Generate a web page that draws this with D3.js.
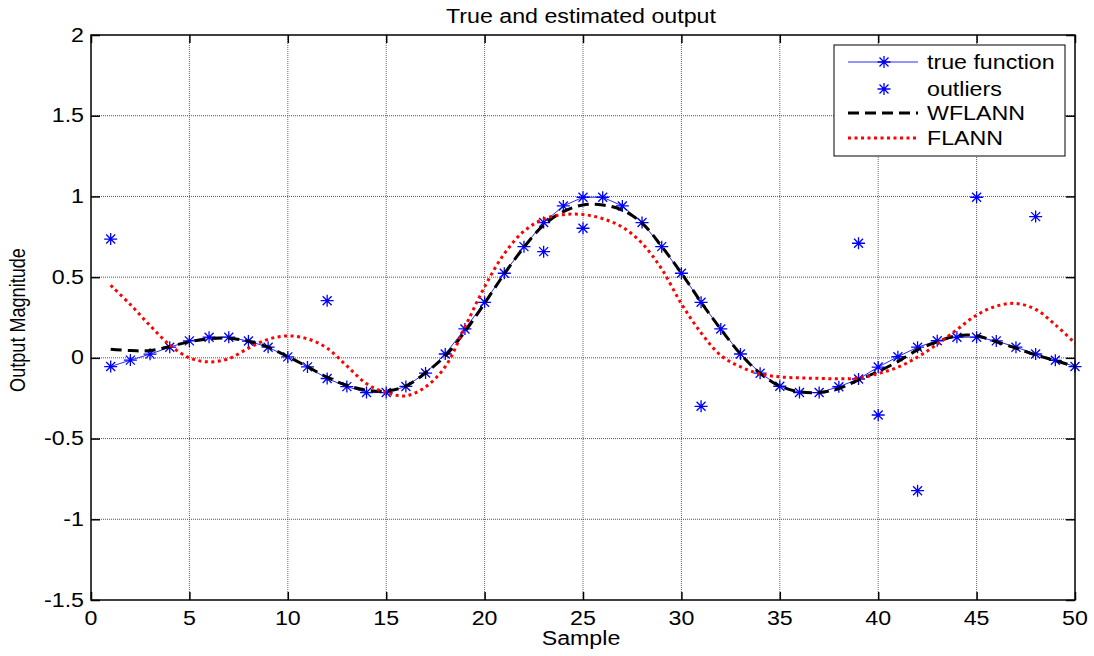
<!DOCTYPE html>
<html lang="en">
<head>
<meta charset="utf-8">
<title>True and estimated output</title>
<script src="https://d3js.org/d3.v7.min.js"></script>
<style>
  body { margin: 0; background: #fff; }
  text { font-family: "Liberation Sans", Arial, sans-serif; fill: #000; }
</style>
</head>
<body>
<div id="chart"></div>
<script>

// sample index 1..50
var samples = d3.range(1, 51);

// true function (blue line with * markers)
var trueFunction = [-0.054, -0.014, 0.023, 0.066, 0.105, 0.128, 0.128, 0.104, 0.066, 0.006,
                    -0.056, -0.128, -0.178, -0.215, -0.215, -0.177, -0.094, 0.024, 0.179, 0.344,
                    0.524, 0.689, 0.838, 0.941, 0.995, 0.995, 0.941, 0.838, 0.689, 0.524,
                    0.344, 0.179, 0.024, -0.095, -0.176, -0.215, -0.215, -0.179, -0.131, -0.057,
                    0.007, 0.066, 0.106, 0.128, 0.128, 0.105, 0.066, 0.024, -0.015, -0.054];

// outliers
var outlierX = [1, 12, 23, 25, 31, 39, 40, 42, 45, 48];
var outlierY = [0.736, 0.354, 0.658, 0.803, -0.30, 0.71, -0.354, -0.823, 0.995, 0.875];

// WFLANN estimate
var wflann = [0.053, 0.045, 0.045, 0.07, 0.10, 0.118, 0.122, 0.103, 0.066, 0.008,
              -0.055, -0.12, -0.17, -0.20, -0.205, -0.175, -0.092, 0.012, 0.162, 0.338,
              0.52, 0.685, 0.823, 0.906, 0.947, 0.947, 0.915, 0.835, 0.69, 0.525,
              0.345, 0.178, 0.024, -0.096, -0.174, -0.21, -0.215, -0.19, -0.137, -0.085,
              -0.023, 0.049, 0.10, 0.137, 0.137, 0.10, 0.06, 0.018, -0.017, -0.054];

// FLANN estimate
var flann = [0.45, 0.33, 0.20, 0.08, 0.00, -0.025, -0.005, 0.06, 0.115, 0.136,
             0.118, 0.06, -0.05, -0.16, -0.215, -0.235, -0.18, -0.055, 0.19, 0.44,
             0.645, 0.785, 0.86, 0.887, 0.888, 0.862, 0.81, 0.71, 0.55, 0.335,
             0.155, 0.015, -0.055, -0.10, -0.118, -0.124, -0.127, -0.13, -0.125, -0.097,
             -0.058, 0.005, 0.085, 0.175, 0.265, 0.32, 0.337, 0.30, 0.205, 0.09];

var xTicks = [0, 5, 10, 15, 20, 25, 30, 35, 40, 45, 50];
var yTicks = [-1.5, -1, -0.5, 0, 0.5, 1, 1.5, 2];
var legendLabels = ["true function", "outliers", "WFLANN", "FLANN"];

var w = 1094, h = 656;
var pLeft = 91, pRight = 1075, pTop = 35, pBottom = 600;
var fs = 19.5, stretch = 1.19;

var svg = d3.select("#chart").append("svg")
  .attr("width", w)
  .attr("height", h);

var x = d3.scaleLinear().domain([0, 50]).range([pLeft, pRight]);
var y = d3.scaleLinear().domain([-1.5, 2]).range([pBottom, pTop]);

// the original picture is stretched sideways, so text gets a horizontal scale
var addText = function(g, px, py, str, anchor, rot, sx, sy, size) {
  return g.append("text")
    .attr("transform", "translate(" + px + "," + py + ")" + (rot ? " rotate(" + rot + ")" : "") +
      " scale(" + (sx || stretch) + "," + (sy || 1) + ")")
    .attr("text-anchor", anchor)
    .attr("font-size", size || fs)
    .text(str);
};

// grid
svg.append("g").selectAll("line")
  .data(xTicks.slice(1, -1))
  .join("line")
  .attr("x1", d => x(d)).attr("x2", d => x(d))
  .attr("y1", pTop).attr("y2", pBottom)
  .attr("stroke", "#666")
  .attr("stroke-dasharray", "1,1");

svg.append("g").selectAll("line")
  .data(yTicks.slice(1, -1))
  .join("line")
  .attr("x1", pLeft).attr("x2", pRight)
  .attr("y1", d => y(d)).attr("y2", d => y(d))
  .attr("stroke", "#555")
  .attr("stroke-dasharray", "1,1");

// asterisk marker
var star = "M-6.5,0H6.5M0,-6V6M-4.5,-4.5L4.5,4.5M-4.5,4.5L4.5,-4.5";

var lineTrue = d3.line().x((d, i) => x(samples[i])).y(d => y(d));
var lineSmooth = d3.line().x((d, i) => x(samples[i])).y(d => y(d)).curve(d3.curveCatmullRom);

// true function
svg.append("path")
  .attr("d", lineTrue(trueFunction))
  .attr("fill", "none")
  .attr("stroke", "#2a2aff")
  .attr("stroke-width", 1);

svg.append("g").selectAll("path")
  .data(trueFunction)
  .join("path")
  .attr("transform", (d, i) => "translate(" + x(samples[i]) + "," + y(d) + ")")
  .attr("d", star)
  .attr("stroke", "#0000ff")
  .attr("stroke-width", 1.3);

// outliers
svg.append("g").selectAll("path")
  .data(outlierY)
  .join("path")
  .attr("transform", (d, i) => "translate(" + x(outlierX[i]) + "," + y(d) + ")")
  .attr("d", star)
  .attr("stroke", "#0000ff")
  .attr("stroke-width", 1.3);

// WFLANN
svg.append("path")
  .attr("d", lineSmooth(wflann))
  .attr("fill", "none")
  .attr("stroke", "#000")
  .attr("stroke-width", 3)
  .attr("stroke-dasharray", "11,6");

// FLANN
svg.append("path")
  .attr("d", lineSmooth(flann))
  .attr("fill", "none")
  .attr("stroke", "#ff0000")
  .attr("stroke-width", 3)
  .attr("stroke-dasharray", "3,3.5");

// box + inward ticks
svg.append("rect")
  .attr("x", pLeft).attr("y", pTop)
  .attr("width", pRight - pLeft).attr("height", pBottom - pTop)
  .attr("fill", "none")
  .attr("stroke", "#000")
  .attr("stroke-width", 1.5);

var axes = [
  [d3.axisBottom(x).tickValues(xTicks).tickSize(-8), "translate(0," + pBottom + ")"],
  [d3.axisTop(x).tickValues(xTicks).tickSize(-8), "translate(0," + pTop + ")"],
  [d3.axisLeft(y).tickValues(yTicks).tickSize(-9), "translate(" + pLeft + ",0)"],
  [d3.axisRight(y).tickValues(yTicks).tickSize(-9), "translate(" + pRight + ",0)"]
];
axes.forEach(function(a) {
  var g = svg.append("g").attr("transform", a[1]).call(a[0].tickFormat(""));
  g.select(".domain").remove();
  g.selectAll("line").attr("stroke", "#000").attr("stroke-width", 1.5);
});

// tick labels
xTicks.forEach(function(t) { addText(svg, x(t), 624.5, t, "middle"); });
yTicks.forEach(function(t) { addText(svg, 84, y(t) + 6.5, t, "end"); });

// titles
addText(svg, 581, 22.5, "True and estimated output", "middle");
addText(svg, 581, 645, "Sample", "middle");
addText(svg, 25, 320, "Output Magnitude", "middle", -90, 1, stretch, 18.1);

// legend
var lg = svg.append("g");
lg.append("rect")
  .attr("x", 834).attr("y", 45)
  .attr("width", 231).attr("height", 111)
  .attr("fill", "#fff")
  .attr("stroke", "#000")
  .attr("stroke-width", 1);

var rowY = [62, 89, 113, 138];

lg.append("line").attr("x1", 848).attr("x2", 918).attr("y1", rowY[0]).attr("y2", rowY[0])
  .attr("stroke", "#2a2aff").attr("stroke-width", 1);
lg.append("path").attr("transform", "translate(884," + rowY[0] + ")").attr("d", star)
  .attr("stroke", "#0000ff").attr("stroke-width", 1.3);
lg.append("path").attr("transform", "translate(884," + rowY[1] + ")").attr("d", star)
  .attr("stroke", "#0000ff").attr("stroke-width", 1.3);
lg.append("line").attr("x1", 848).attr("x2", 918).attr("y1", rowY[2]).attr("y2", rowY[2])
  .attr("stroke", "#000").attr("stroke-width", 3).attr("stroke-dasharray", "11,6");
lg.append("line").attr("x1", 848).attr("x2", 918).attr("y1", rowY[3]).attr("y2", rowY[3])
  .attr("stroke", "#ff0000").attr("stroke-width", 3).attr("stroke-dasharray", "3,3.5");

legendLabels.forEach(function(s, i) { addText(lg, 927, rowY[i] + 6.5, s, "start"); });

</script>
</body>
</html>
